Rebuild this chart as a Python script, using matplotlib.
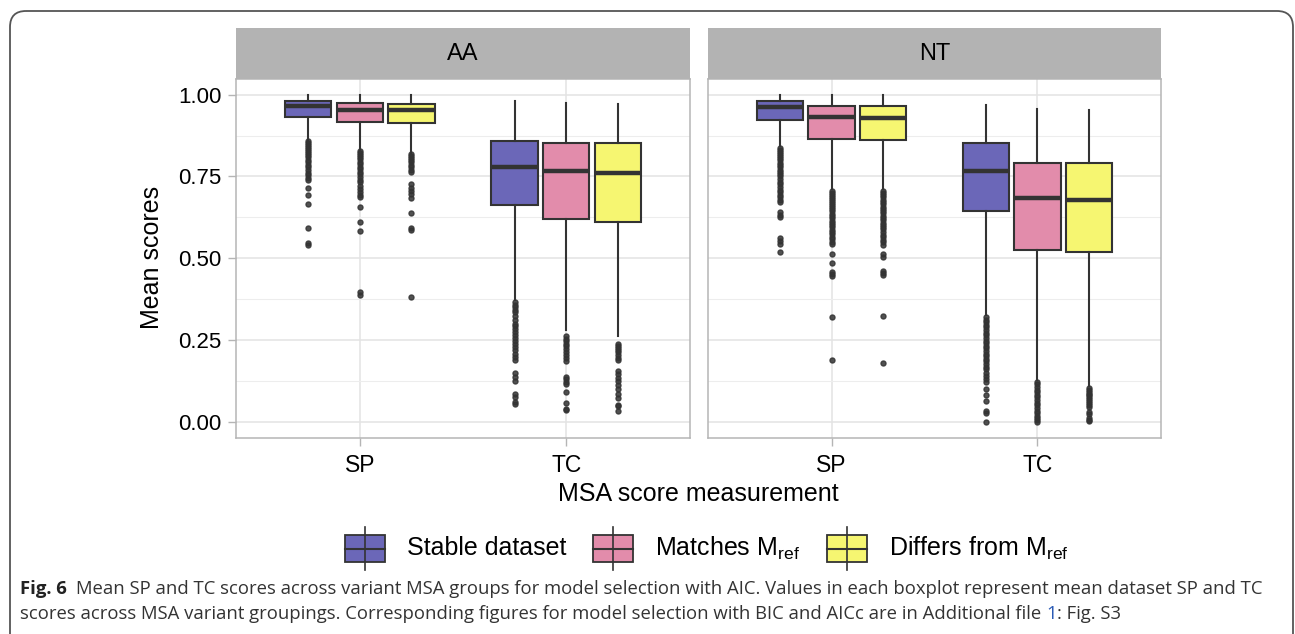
import matplotlib
matplotlib.use('Agg')
import matplotlib.pyplot as plt
from matplotlib.patches import Rectangle, FancyBboxPatch
from matplotlib.lines import Line2D

plt.rcParams['font.family'] = ['Liberation Sans', 'DejaVu Sans']
plt.rcParams['mathtext.fontset'] = 'custom'
plt.rcParams['mathtext.rm'] = 'Liberation Sans'

# ---- data ----
panels = ['AA', 'NT']
measures = ['SP', 'TC']
groups = ['Stable dataset', 'Matches M$_{\\mathrm{ref}}$', 'Differs from M$_{\\mathrm{ref}}$']
colors = ['#6B67B8', '#E28CAB', '#F6F671']

# rows: AA-SP, AA-TC, NT-SP, NT-TC ; columns: Stable, Matches, Differs
whishi = [[0.998, 0.998, 0.998], [0.982, 0.974, 0.973],
          [0.998, 0.998, 0.998], [0.970, 0.957, 0.953]]
q3 = [[0.982, 0.974, 0.973], [0.859, 0.852, 0.851],
      [0.980, 0.965, 0.964], [0.853, 0.791, 0.790]]
med = [[0.964, 0.952, 0.952], [0.780, 0.766, 0.760],
       [0.962, 0.932, 0.928], [0.766, 0.683, 0.677]]
q1 = [[0.932, 0.916, 0.912], [0.663, 0.619, 0.612],
      [0.924, 0.863, 0.860], [0.645, 0.525, 0.519]]
whislo = [[0.860, 0.832, 0.822], [0.371, 0.279, 0.261],
          [0.843, 0.711, 0.711], [0.325, 0.127, 0.109]]

out_aa_sp = [
    [0.858, 0.852, 0.846, 0.840, 0.834, 0.828, 0.822, 0.815, 0.808, 0.800, 0.793, 0.786,
     0.778, 0.770, 0.762, 0.754, 0.746, 0.740, 0.714, 0.692, 0.665, 0.592, 0.546, 0.541],
    [0.828, 0.822, 0.816, 0.810, 0.803, 0.795, 0.788, 0.780, 0.772, 0.764, 0.756, 0.748,
     0.740, 0.733, 0.722, 0.712, 0.703, 0.694, 0.686, 0.658, 0.610, 0.582, 0.396, 0.386],
    [0.818, 0.812, 0.806, 0.800, 0.793, 0.786, 0.778, 0.770, 0.763, 0.726, 0.716, 0.706,
     0.696, 0.684, 0.639, 0.592, 0.586, 0.380],
]
out_aa_tc = [
    [0.366, 0.358, 0.350, 0.342, 0.334, 0.322, 0.310, 0.300, 0.292, 0.284, 0.275, 0.266,
     0.256, 0.246, 0.236, 0.228, 0.218, 0.208, 0.198, 0.190, 0.148, 0.138, 0.124, 0.084,
     0.074, 0.060, 0.054],
    [0.262, 0.254, 0.246, 0.238, 0.230, 0.222, 0.214, 0.204, 0.194, 0.184, 0.138, 0.130,
     0.122, 0.116, 0.092, 0.056, 0.040, 0.036],
    [0.238, 0.232, 0.226, 0.220, 0.212, 0.204, 0.196, 0.188, 0.156, 0.146, 0.134, 0.124,
     0.112, 0.100, 0.086, 0.072, 0.052, 0.048, 0.032],
]
out_nt_sp = [
    [0.838, 0.832, 0.826, 0.820, 0.813, 0.806, 0.799, 0.792, 0.785, 0.778, 0.771, 0.764,
     0.757, 0.750, 0.742, 0.734, 0.726, 0.718, 0.710, 0.702, 0.694, 0.686, 0.678, 0.671,
     0.640, 0.632, 0.625, 0.562, 0.553, 0.544, 0.520],
    [0.706, 0.700, 0.694, 0.688, 0.682, 0.676, 0.670, 0.664, 0.657, 0.650, 0.643, 0.636,
     0.629, 0.622, 0.615, 0.608, 0.601, 0.594, 0.587, 0.580, 0.573, 0.566, 0.558, 0.550,
     0.543, 0.513, 0.485, 0.458, 0.452, 0.447, 0.320, 0.190],
    [0.706, 0.700, 0.693, 0.686, 0.679, 0.672, 0.665, 0.658, 0.651, 0.644, 0.637, 0.630,
     0.623, 0.616, 0.609, 0.602, 0.595, 0.588, 0.580, 0.572, 0.564, 0.556, 0.548, 0.540,
     0.513, 0.503, 0.462, 0.455, 0.448, 0.323, 0.180],
]
out_nt_tc = [
    [0.320, 0.312, 0.304, 0.296, 0.288, 0.280, 0.272, 0.264, 0.256, 0.248, 0.240, 0.232,
     0.224, 0.216, 0.208, 0.200, 0.192, 0.184, 0.176, 0.168, 0.160, 0.150, 0.140, 0.130,
     0.120, 0.100, 0.082, 0.064, 0.034, 0.026, 0.000],
    [0.122, 0.114, 0.106, 0.098, 0.090, 0.082, 0.074, 0.066, 0.058, 0.050, 0.042, 0.034,
     0.026, 0.018, 0.010, 0.004, 0.000],
    [0.104, 0.098, 0.092, 0.086, 0.080, 0.074, 0.068, 0.062, 0.056, 0.050, 0.044, 0.030,
     0.022, 0.012, 0.006, 0.002],
]
outliers = [out_aa_sp, out_aa_tc, out_nt_sp, out_nt_tc]

y_ticks = [0.0, 0.25, 0.5, 0.75, 1.0]
y_tick_labels = ['0.00', '0.25', '0.50', '0.75', '1.00']

caption_bold = 'Fig. 6'
caption_line1 = ('Mean SP and TC scores across variant MSA groups for model selection with AIC. '
                 'Values in each boxplot represent mean dataset SP and TC')
caption_line2a = 'scores across MSA variant groupings. Corresponding figures for model selection with BIC and AICc are in Additional file '
caption_link = '1'
caption_line2b = ': Fig. S3'

# ---- layout (pixels) ----
W, H = 1295, 634
fig = plt.figure(figsize=(W / 100, H / 100), dpi=100)


def px_rect(x0, y0, x1, y1):
    return [x0 / W, 1 - y1 / H, (x1 - x0) / W, (y1 - y0) / H]


panel_x = [(236, 690), (708, 1161)]
edge = '#333333'

for p, (x0, x1) in enumerate(panel_x):
    ax = fig.add_axes(px_rect(x0, 79, x1, 438))

    for m in range(2):
        row = 2 * p + m
        stats = []
        pos = []
        for g in range(3):
            stats.append(dict(med=med[row][g], q1=q1[row][g], q3=q3[row][g],
                              whislo=whislo[row][g], whishi=whishi[row][g],
                              fliers=outliers[row][g]))
            pos.append(m + 1 + (g - 1) * 0.25)
        bp = ax.bxp(stats, positions=pos, widths=0.225, patch_artist=True,
                    showcaps=False, manage_ticks=False,
                    boxprops=dict(edgecolor=edge, linewidth=1.5),
                    whiskerprops=dict(color=edge, linewidth=1.5),
                    medianprops=dict(color=edge, linewidth=3.2, solid_capstyle='butt'),
                    flierprops=dict(marker='o', markersize=3.6, markerfacecolor=edge,
                                    markeredgecolor=edge, alpha=0.85, linestyle='none'))
        for patch, c in zip(bp['boxes'], colors):
            patch.set_facecolor(c)

    ax.set_xlim(0.4, 2.6)
    ax.set_ylim(-0.05, 1.048)
    ax.set_yticks(y_ticks)
    ax.set_yticks([0.125, 0.375, 0.625, 0.875], minor=True)
    ax.set_xticks([1, 2])
    ax.set_xticklabels(measures, fontsize=16.5)
    ax.grid(True, which='major', color='#E3E3E3', lw=1.1, zorder=0)
    ax.grid(True, which='minor', axis='y', color='#EDEDED', lw=0.8, zorder=0)
    ax.set_axisbelow(True)
    for s in ax.spines.values():
        s.set_color('#B5B5B5')
        s.set_linewidth(1.1)
    ax.tick_params(which='major', length=5.5, width=1.0, color='#B5B5B5', pad=6)
    ax.tick_params(which='minor', length=0)
    if p == 0:
        ax.set_yticklabels(y_tick_labels, fontsize=16)
        ax.tick_params(axis='y', pad=5)
    else:
        ax.tick_params(axis='y', left=False, labelleft=False)

    # strip
    sax = fig.add_axes(px_rect(x0, 28, x1, 79))
    sax.set_facecolor('#B3B3B3')
    sax.set_xticks([])
    sax.set_yticks([])
    for s in sax.spines.values():
        s.set_visible(False)
    sax.text(0.5, 0.5, panels[p], ha='center', va='center', fontsize=17, color='black',
             transform=sax.transAxes)

fig.text(152 / W, 1 - 257 / H, 'Mean scores', rotation=90, ha='center', va='center', fontsize=18)
fig.text(698 / W, 1 - 494 / H, 'MSA score measurement', ha='center', va='center', fontsize=18)

# overlay in pixel coordinates: legend, frame, caption
ov = fig.add_axes([0, 0, 1, 1], facecolor='none')
ov.set_xlim(0, W)
ov.set_ylim(H, 0)
ov.axis('off')

key_x = [345, 593, 827]
for g in range(3):
    kx = key_x[g]
    ov.add_line(Line2D([kx + 20, kx + 20], [527, 570], color=edge, lw=1.2))
    ov.add_patch(Rectangle((kx, 535), 40, 27, facecolor=colors[g], edgecolor=edge, lw=1.3))
    ov.add_line(Line2D([kx, kx + 40], [548.5, 548.5], color=edge, lw=1.5))
    ov.text(kx + 62, 548, groups[g], ha='left', va='center', fontsize=18)

frame = FancyBboxPatch((10, 11), 1283, 700, boxstyle='round,pad=0,rounding_size=16',
                       facecolor='none', edgecolor='#555555', lw=1.3)
ov.add_patch(frame)

fig.canvas.draw()
r = fig.canvas.get_renderer()
cap_font = ['Open Sans', 'DejaVu Sans']
cap_size = 13.3


def put(x, y, s, **kw):
    t = ov.text(x, y, s, ha='left', va='center', fontsize=cap_size, family=cap_font, **kw)
    bb = t.get_window_extent(renderer=r)
    return x + bb.width


x = put(20, 589, caption_bold, fontweight='bold', color='#222222')
put(x + 9, 589, caption_line1, color='#333333')
x = put(20, 614, caption_line2a, color='#333333')
x = put(x, 614, caption_link, color='#2B5BB5')
put(x, 614, caption_line2b, color='#333333')

fig.savefig('out.png', dpi=100)
